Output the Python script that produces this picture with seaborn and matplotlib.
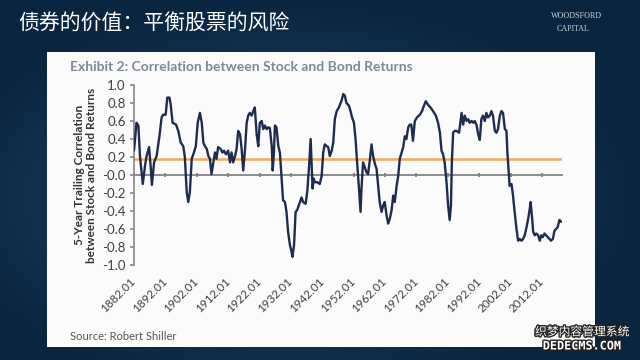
import numpy as np
import pandas as pd
import seaborn as sns
import matplotlib.pyplot as plt
import matplotlib.patheffects as pe
from matplotlib.colors import LinearSegmentedColormap
from matplotlib.patches import Rectangle

# data (year, 5-yr trailing correlation)
years = [1882.0, 1882.8, 1883.4, 1883.9, 1884.8, 1885.5, 1886.0, 1886.8, 1887.3, 1887.7,
         1888.4, 1889.2, 1890.1, 1890.8, 1891.3, 1892.1, 1892.6, 1893.3, 1893.7, 1894.3,
         1895.4, 1896.1, 1896.9, 1897.7, 1898.2, 1898.8, 1899.3, 1899.8, 1900.4, 1901.1,
         1901.7, 1902.3, 1903.0, 1903.6, 1904.1, 1904.6, 1905.2, 1905.7, 1906.2, 1906.7,
         1907.3, 1907.8, 1908.3, 1908.8, 1909.6, 1910.2, 1910.7, 1911.3, 1912.0, 1912.6,
         1913.1, 1913.6, 1914.2, 1914.7, 1915.2, 1915.8, 1916.3, 1916.8, 1917.4, 1917.9,
         1918.4, 1918.9, 1919.5, 1920.0, 1920.5, 1921.1, 1921.6, 1922.1, 1922.7, 1923.2,
         1923.7, 1924.3, 1924.8, 1925.3, 1925.9, 1926.2, 1926.6, 1926.9, 1927.4, 1928.0,
         1928.5, 1929.0, 1929.5, 1930.1, 1930.6, 1931.1, 1931.7, 1932.2, 1932.5, 1933.0,
         1933.5, 1934.0, 1934.9, 1935.4, 1935.9, 1936.7, 1937.2, 1937.8, 1938.3, 1938.6,
         1938.9, 1939.3, 1939.6, 1940.4, 1941.2, 1941.8, 1942.3, 1942.8, 1943.4, 1943.9,
         1944.4, 1945.0, 1945.5, 1946.0, 1946.6, 1947.3, 1947.6, 1948.1, 1948.7, 1949.2,
         1949.7, 1950.5, 1951.0, 1951.5, 1952.1, 1952.6, 1953.1, 1953.7, 1954.2, 1954.5,
         1955.0, 1955.6, 1956.1, 1956.6, 1957.2, 1957.7, 1958.2, 1958.8, 1959.3, 1959.8,
         1960.3, 1960.9, 1961.4, 1961.9, 1962.5, 1963.0, 1963.5, 1964.1, 1964.6, 1965.1,
         1965.7, 1966.2, 1966.7, 1967.3, 1967.8, 1968.3, 1968.8, 1969.4, 1969.9, 1970.4,
         1970.9, 1971.5, 1972.2, 1973.1, 1973.8, 1974.4, 1975.0, 1975.7, 1976.5, 1977.3,
         1978.2, 1978.9, 1979.5, 1980.0, 1980.5, 1981.0, 1981.6, 1982.1, 1982.6, 1983.0,
         1983.3, 1983.7, 1984.2, 1984.8, 1985.6, 1986.4, 1986.9, 1987.4, 1988.0, 1988.5,
         1989.0, 1989.6, 1990.1, 1990.6, 1991.2, 1991.7, 1992.2, 1992.7, 1993.2, 1993.8,
         1994.3, 1994.8, 1995.4, 1995.9, 1996.4, 1997.0, 1997.5, 1998.0, 1998.6, 1999.1,
         1999.6, 2000.2, 2000.7, 2001.0, 2001.4, 2001.7, 2002.3, 2002.8, 2003.3, 2003.9,
         2004.4, 2004.9, 2005.5, 2006.0, 2006.5, 2007.1, 2007.6, 2008.1, 2008.4, 2008.9,
         2009.2, 2009.7, 2010.2, 2010.8, 2011.3, 2011.8, 2012.3, 2012.8, 2013.3, 2013.9,
         2014.4, 2014.9, 2015.5, 2016.0, 2016.5, 2017.0, 2017.6, 2018.1]
corr = [0.27, 0.58, 0.55, 0.21, -0.10, 0.10, 0.21, 0.31, 0.10, -0.11,
        0.14, 0.21, 0.43, 0.64, 0.67, 0.67, 0.86, 0.86, 0.78, 0.58,
        0.56, 0.49, 0.36, 0.32, 0.20, -0.19, -0.30, -0.19, 0.18, 0.25,
        0.32, 0.58, 0.69, 0.58, 0.36, 0.32, 0.29, 0.21, 0.18, 0.01,
        0.14, 0.25, 0.18, 0.31, 0.29, 0.25, 0.27, 0.23, 0.27, 0.14,
        0.25, 0.14, 0.21, 0.29, 0.49, 0.45, 0.29, 0.05, 0.29, 0.58,
        0.66, 0.69, 0.66, 0.71, 0.75, 0.45, 0.32, 0.58, 0.60, 0.51,
        0.55, 0.51, 0.53, 0.52, 0.32, 0.05, 0.25, 0.55, 0.53, 0.32,
        0.25, -0.01, -0.28, -0.30, -0.41, -0.63, -0.78, -0.85, -0.91, -0.78,
        -0.41, -0.39, -0.30, -0.25, -0.30, -0.32, -0.19, 0.10, 0.40, 0.14,
        -0.15, -0.04, -0.08, -0.08, -0.10, -0.01, 0.25, 0.34, 0.32, 0.31,
        0.21, 0.27, 0.36, 0.62, 0.71, 0.75, 0.78, 0.82, 0.90, 0.88,
        0.80, 0.77, 0.71, 0.64, 0.58, 0.40, 0.14, -0.15, -0.41, -0.15,
        0.14, 0.08, 0.03, 0.01, 0.18, 0.34, 0.21, 0.12, 0.07, -0.12,
        -0.30, -0.41, -0.34, -0.30, -0.45, -0.54, -0.49, -0.39, -0.23, -0.30,
        -0.12, -0.01, 0.18, 0.25, 0.31, 0.43, 0.40, 0.53, 0.56, 0.56,
        0.38, 0.60, 0.64, 0.67, 0.71, 0.77, 0.82, 0.78, 0.75, 0.71,
        0.66, 0.58, 0.47, 0.27, 0.23, 0.14, -0.08, -0.34, -0.50, -0.34,
        0.14, 0.47, 0.49, 0.49, 0.47, 0.69, 0.56, 0.66, 0.60, 0.62,
        0.58, 0.60, 0.58, 0.60, 0.55, 0.45, 0.39, 0.62, 0.66, 0.60,
        0.69, 0.64, 0.66, 0.71, 0.66, 0.49, 0.47, 0.51, 0.66, 0.71,
        0.69, 0.51, 0.49, 0.25, 0.03, -0.12, -0.10, -0.23, -0.41, -0.60,
        -0.73, -0.71, -0.73, -0.71, -0.67, -0.58, -0.49, -0.38, -0.30, -0.49,
        -0.63, -0.67, -0.65, -0.67, -0.73, -0.67, -0.69, -0.65, -0.67, -0.69,
        -0.71, -0.73, -0.71, -0.62, -0.60, -0.58, -0.50, -0.52]
avg_corr = 0.18
tick_years = [1882, 1892, 1902, 1912, 1922, 1932, 1942, 1952, 1962, 1972, 1982, 1992, 2002, 2012]
tick_labels = [f'{y}.01' for y in tick_years]

df = pd.DataFrame({'year': years, 'corr': corr})

sns.set_theme(style='white')
plt.rcParams['font.family'] = ['Lato', 'Noto Sans CJK SC', 'DejaVu Sans']

fig = plt.figure(figsize=(6.4, 3.6), dpi=100)

# slide background: dark blue radial gradient
bg = fig.add_axes([0, 0, 1, 1], zorder=0)
gx, gy = np.meshgrid(np.linspace(0, 1, 320), np.linspace(0, 1, 180))
r = np.sqrt(((gx - 0.45) / 0.8) ** 2 + ((gy - 0.55) / 0.8) ** 2)
cmap = LinearSegmentedColormap.from_list('slide', ['#1f4c6c', '#0a2540'])
bg.imshow(r, cmap=cmap, aspect='auto', extent=[0, 1, 0, 1], vmin=0, vmax=0.7)
bg.set_axis_off()

# white panel
fig.patches.append(Rectangle((47 / 640, 1 - 347 / 360), 548 / 640, 295 / 360,
                             transform=fig.transFigure, facecolor='#fbfbfc',
                             edgecolor='none', zorder=1))

fig.text(18 / 640, 1 - 23 / 360, '债券的价值：平衡股票的风险', color='white', fontsize=15,
         family=['Noto Sans CJK SC', 'DejaVu Sans'], va='center', zorder=3)
fig.text(551 / 640, 1 - 16 / 360, 'WOODSFORD', color='#c8d0d8', fontsize=5.8,
         family='Liberation Serif', va='center', zorder=3)
fig.text(557 / 640, 1 - 29 / 360, 'CAPITAL', color='#c8d0d8', fontsize=5.8,
         family='Liberation Serif', va='center', zorder=3)
fig.text(70 / 640, 1 - 67 / 360, 'Exhibit 2: Correlation between Stock and Bond Returns',
         color='#7d8899', fontsize=10, fontweight='bold', va='center', zorder=3)
fig.text(70 / 640, 1 - 336 / 360, 'Source: Robert Shiller', color='#555555',
         fontsize=8, va='center', zorder=3)

wm = [pe.withStroke(linewidth=2, foreground='#222222')]
fig.text(582 / 640, 1 - 332 / 360, '织梦内容管理系统', color='white', fontsize=8.5,
         family=['Noto Sans CJK SC', 'DejaVu Sans'], ha='center', va='center',
         path_effects=wm, zorder=3)
fig.text(582 / 640, 1 - 346 / 360, 'DEDECMS.COM', color='white', fontsize=8.5,
         family='DejaVu Sans Mono', fontweight='bold', ha='center', va='center',
         path_effects=wm, zorder=3)

ax = fig.add_axes([134 / 640, 1 - 265 / 360, 428 / 640, 180 / 360], zorder=2)
ax.set_facecolor('none')

ax.axhline(avg_corr, color='#f2aa55', lw=1.8, zorder=1)
sns.lineplot(data=df, x='year', y='corr', color='#1e2c4f', lw=1.7, ax=ax, zorder=3)

ax.set_xlim(1882, 2018.4)
ax.set_ylim(-1, 1)
yt = np.round(np.arange(-1, 1.01, 0.2), 1)
ax.set_yticks(yt)
ax.set_yticklabels([f'{v:.1f}' for v in yt])
ax.set_xticks(tick_years)
ax.set_xticklabels(tick_labels)

for s in ['top', 'right']:
    ax.spines[s].set_visible(False)
ax.spines['left'].set_color('#8c8c8c')
ax.spines['bottom'].set_position(('data', 0))
ax.spines['bottom'].set_color('#7f7f7f')
ax.spines['bottom'].set_zorder(2)

ax.tick_params(axis='y', direction='out', length=3, color='#8c8c8c', labelsize=9.5,
               labelcolor='#404040', pad=3, left=True)
ax.tick_params(axis='x', direction='inout', length=3, color='#7f7f7f', labelsize=8.5,
               labelcolor='#404040', pad=74, bottom=True)
for lab in ax.get_xticklabels():
    lab.set_rotation(45)
    lab.set_ha('right')
    lab.set_va('center')
    lab.set_rotation_mode('anchor')

ax.set_xlabel('')
ax.set_ylabel('5-Year Trailing Correlation\nbetween Stock and Bond Returns',
              fontsize=8.5, fontweight='bold', color='#333333', labelpad=4,
              linespacing=1.1)

fig.savefig('out.png', dpi=100)
